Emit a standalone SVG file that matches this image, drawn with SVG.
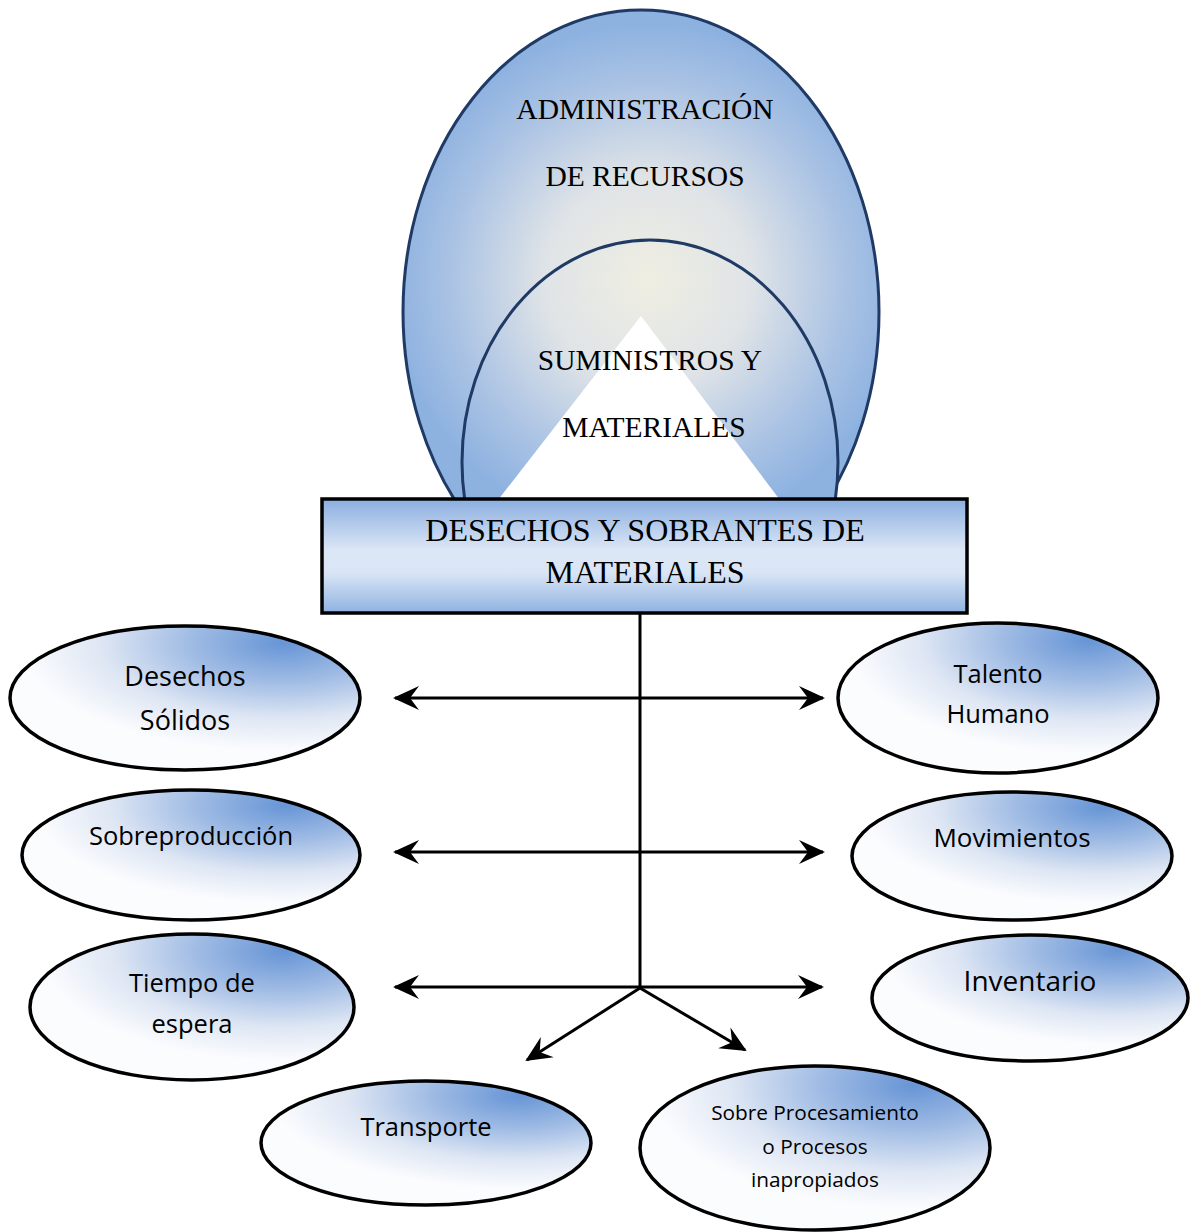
<svg xmlns="http://www.w3.org/2000/svg" width="1192" height="1232" viewBox="0 0 1192 1232">
  <defs>
    <!-- soft cream centre fading to blue for the resource domes -->
    <radialGradient id="domeFill" gradientUnits="userSpaceOnUse" cx="648" cy="280" r="255">
      <stop offset="0" stop-color="#efeee2"/>
      <stop offset="0.4" stop-color="#e0e4e7"/>
      <stop offset="0.78" stop-color="#a9c2e4"/>
      <stop offset="1" stop-color="#8eb2e0"/>
    </radialGradient>
    <!-- banded blue fill for the central box -->
    <linearGradient id="boxFill" x1="0" y1="0" x2="0" y2="1">
      <stop offset="0" stop-color="#8aaee0"/>
      <stop offset="0.45" stop-color="#dce7f6"/>
      <stop offset="0.65" stop-color="#d9e5f5"/>
      <stop offset="1" stop-color="#8fb2e1"/>
    </linearGradient>
    <!-- node fill: white on the left and bottom, blue toward the upper right -->
    <radialGradient id="nodeFill" cx="0.78" cy="0.12" r="0.75" fx="0.78" fy="0.12">
      <stop offset="0" stop-color="#6795d6"/>
      <stop offset="0.35" stop-color="#9fbbe4"/>
      <stop offset="0.7" stop-color="#dfe7f4"/>
      <stop offset="1" stop-color="#fbfcfe"/>
    </radialGradient>
    <!-- domes stop at the top edge of the central box -->
    <clipPath id="domeClip">
      <rect x="0" y="0" width="1192" height="500"/>
    </clipPath>
    <marker id="arrow" markerUnits="userSpaceOnUse" markerWidth="30" markerHeight="30" viewBox="-26 -13 30 26" refX="0" refY="0" orient="auto-start-reverse">
      <path d="M2,0 L-24,-12 L-15,0 L-24,12 Z" fill="#000"/>
    </marker>
    <style>
      .node { fill: url(#nodeFill); stroke: #000; stroke-width: 3.5; }
      .dome { stroke: #1f3a64; stroke-width: 3; }
      .serif { font-family: "Liberation Serif", "Times New Roman", serif; fill: #000; text-anchor: middle; }
      .sans { font-family: "Open Sans", "Noto Sans", sans-serif; fill: #000; text-anchor: middle; }
      .link { stroke: #000; stroke-width: 3; fill: none; }
    </style>
  </defs>

  <rect width="1192" height="1232" fill="#ffffff"/>

  <!-- resource domes -->
  <g id="administracion" clip-path="url(#domeClip)">
    <ellipse class="dome" cx="641" cy="312" rx="238" ry="302" fill="url(#domeFill)"/>
    <text class="serif" x="645" y="119" font-size="29.5">ADMINISTRACIÓN</text>
    <text class="serif" x="645" y="186" font-size="29.5">DE RECURSOS</text>
  </g>
  <g id="suministros" clip-path="url(#domeClip)">
    <ellipse class="dome" cx="650" cy="462" rx="188" ry="222" fill="url(#domeFill)"/>
    <polygon points="641,316 498,500 780,500" fill="#ffffff"/>
    <text class="serif" x="650" y="370" font-size="29.5">SUMINISTROS Y</text>
    <text class="serif" x="654" y="437" font-size="29.5">MATERIALES</text>
  </g>

  <g id="desechos-sobrantes">
    <rect x="322" y="499" width="645" height="114" fill="url(#boxFill)" stroke="#000" stroke-width="3.5"/>
    <text class="serif" x="645" y="541" font-size="32">DESECHOS Y SOBRANTES DE</text>
    <text class="serif" x="645" y="583" font-size="32">MATERIALES</text>
  </g>

  <!-- connectors -->
  <g id="connectors">
    <line class="link" x1="640" y1="613" x2="640" y2="988"/>
    <line class="link" x1="395" y1="698" x2="823" y2="698" marker-start="url(#arrow)" marker-end="url(#arrow)"/>
    <line class="link" x1="395" y1="852" x2="823" y2="852" marker-start="url(#arrow)" marker-end="url(#arrow)"/>
    <line class="link" x1="395" y1="987" x2="822" y2="987" marker-start="url(#arrow)" marker-end="url(#arrow)"/>
    <line class="link" x1="640" y1="988" x2="527" y2="1060" marker-end="url(#arrow)"/>
    <line class="link" x1="640" y1="988" x2="745" y2="1050" marker-end="url(#arrow)"/>
  </g>

  <!-- waste categories -->
  <g id="desechos-solidos">
    <ellipse class="node" cx="185" cy="698" rx="175" ry="72"/>
    <text class="sans" x="185" y="686" font-size="27">Desechos</text>
    <text class="sans" x="185" y="730" font-size="27">Sólidos</text>
  </g>
  <g id="talento-humano">
    <ellipse class="node" cx="998" cy="698" rx="160" ry="75"/>
    <text class="sans" x="998" y="683" font-size="25.5">Talento</text>
    <text class="sans" x="998" y="723" font-size="25.5">Humano</text>
  </g>
  <g id="sobreproduccion">
    <ellipse class="node" cx="191" cy="855" rx="169" ry="65"/>
    <text class="sans" x="191" y="845" font-size="25.5">Sobreproducción</text>
  </g>
  <g id="movimientos">
    <ellipse class="node" cx="1012" cy="856" rx="160" ry="64"/>
    <text class="sans" x="1012" y="847" font-size="26">Movimientos</text>
  </g>
  <g id="tiempo-espera">
    <ellipse class="node" cx="192" cy="1007" rx="162" ry="73"/>
    <text class="sans" x="192" y="992" font-size="25.5">Tiempo de</text>
    <text class="sans" x="192" y="1033" font-size="25.5">espera</text>
  </g>
  <g id="inventario">
    <ellipse class="node" cx="1030" cy="998" rx="158" ry="63"/>
    <text class="sans" x="1030" y="991" font-size="28">Inventario</text>
  </g>
  <g id="transporte">
    <ellipse class="node" cx="426" cy="1143" rx="165" ry="62"/>
    <text class="sans" x="426" y="1136" font-size="25.5">Transporte</text>
  </g>
  <g id="sobre-procesamiento">
    <ellipse class="node" cx="815" cy="1148" rx="175" ry="82"/>
    <text class="sans" x="815" y="1120" font-size="20.8">Sobre Procesamiento</text>
    <text class="sans" x="815" y="1154" font-size="20.8">o Procesos</text>
    <text class="sans" x="815" y="1187" font-size="20.8">inapropiados</text>
  </g>
</svg>
